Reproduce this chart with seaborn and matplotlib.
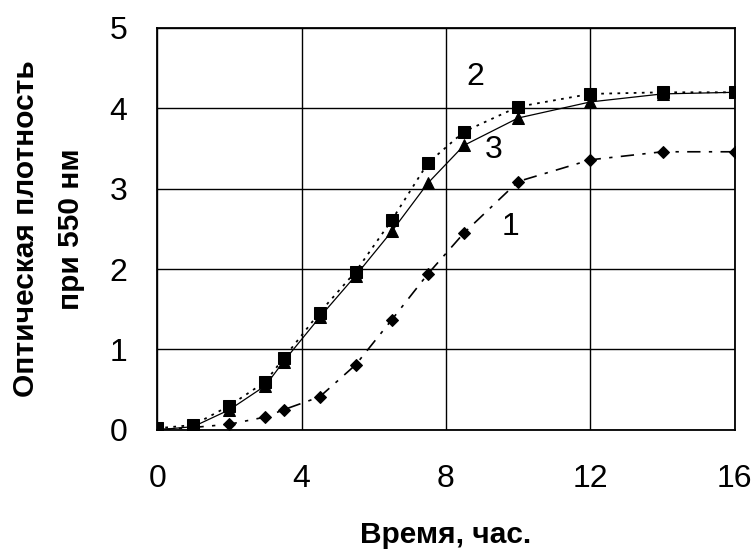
import matplotlib
matplotlib.use("Agg")
import matplotlib.pyplot as plt
import seaborn as sns
import pandas as pd

# Data
time_1 = [0, 1, 2, 3, 3.5, 4.5, 5.5, 6.5, 7.5, 8.5, 10, 12, 14, 16]
od_1 = [0.0, 0.03, 0.07, 0.16, 0.25, 0.41, 0.81, 1.37, 1.94, 2.45, 3.09, 3.36, 3.46, 3.46]

time_2 = [0, 1, 2, 3, 3.5, 4.5, 5.5, 6.5, 7.5, 8.5, 10, 12, 14, 16]
od_2 = [0.02, 0.06, 0.3, 0.6, 0.89, 1.46, 1.97, 2.61, 3.32, 3.71, 4.02, 4.18, 4.2, 4.2]

time_3 = [0, 1, 2, 3, 3.5, 4.5, 5.5, 6.5, 7.5, 8.5, 10, 12, 14, 16]
od_3 = [0.0, 0.04, 0.25, 0.55, 0.85, 1.4, 1.92, 2.47, 3.07, 3.54, 3.88, 4.08, 4.18, 4.2]

curve_labels = ["1", "2", "3"]
label_pos = [(9.8, 2.53), (8.8, 4.39), (9.33, 3.48)]

x_ticks = [0, 4, 8, 12, 16]
y_ticks = [0, 1, 2, 3, 4, 5]

sns.set_style("white")
plt.rcParams['font.family'] = ['Liberation Sans', 'DejaVu Sans']
plt.rcParams['text.color'] = 'black'
plt.rcParams['axes.labelcolor'] = 'black'
plt.rcParams['xtick.color'] = 'black'
plt.rcParams['ytick.color'] = 'black'

fig = plt.figure(figsize=(7.52, 5.49), dpi=100)
ax = fig.add_axes([0.209, 0.217, 0.768, 0.732])

df1 = pd.DataFrame({"t": time_1, "od": od_1})
df2 = pd.DataFrame({"t": time_2, "od": od_2})
df3 = pd.DataFrame({"t": time_3, "od": od_3})

sns.lineplot(data=df1, x="t", y="od", ax=ax, color="black", lw=1.2,
             linestyle=(0, (8, 5, 2, 5)), marker="D", markersize=6.5,
             markeredgecolor="black", zorder=3)
sns.lineplot(data=df3, x="t", y="od", ax=ax, color="black", lw=0.9,
             linestyle="-", marker="^", markersize=8.5,
             markeredgecolor="black", zorder=3)
sns.lineplot(data=df2, x="t", y="od", ax=ax, color="black", lw=1.3,
             linestyle=(0, (1.5, 3)), marker="s", markersize=8.5,
             markeredgecolor="black", zorder=4)

for lab, (lx, ly) in zip(curve_labels, label_pos):
    ax.text(lx, ly, lab, fontsize=23, ha="center", va="center", color="black")

ax.set_xlim(0, 16)
ax.set_ylim(0, 5)
ax.set_xticks(x_ticks)
ax.set_yticks(y_ticks)
ax.grid(True, color="black", lw=1.0)
ax.set_axisbelow(True)
for s in ax.spines.values():
    s.set_color("black")
    s.set_linewidth(1.3)
ax.tick_params(axis="both", direction="out", length=8.5, width=1.2,
               color="black", labelsize=23)
ax.tick_params(axis="x", pad=16)
ax.tick_params(axis="y", pad=13)

ax.set_xlabel("Время, час.", fontsize=21.5, fontweight="bold")
ax.set_ylabel("Оптическая плотность\nпри 550 нм", fontsize=21.5,
              fontweight="bold", linespacing=1.75)
ax.xaxis.label.set_va("center")
ax.yaxis.label.set_va("center")
ax.xaxis.set_label_coords(0.5, -0.262)
ax.yaxis.set_label_coords(-0.188, 0.5)

fig.savefig("out.png", dpi=100)
